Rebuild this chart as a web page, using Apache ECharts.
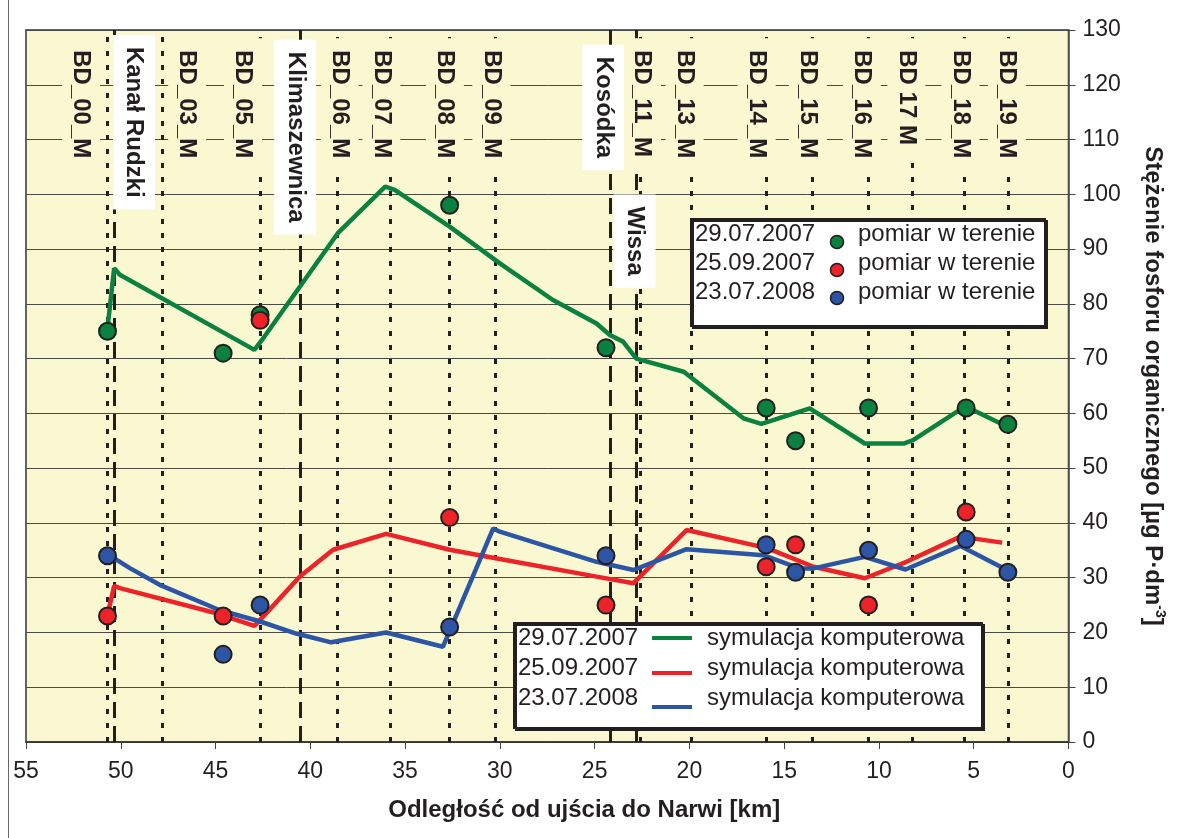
<!DOCTYPE html>
<html>
<head>
<meta charset="utf-8">
<title>Stężenie fosforu organicznego</title>
<script src="https://cdn.jsdelivr.net/npm/echarts@6/dist/echarts.min.js"></script>
<style>
html, body { margin: 0; padding: 0; background: #fff; }
#chart { width: 1180px; height: 838px; }
</style>
</head>
<body>
<div id="chart"></div>
<script>
// stanowiska pomiarowe [km od ujścia]
var stationNames = ['BD_00_M', 'BD_03_M', 'BD_05_M', 'BD_06_M', 'BD_07_M', 'BD_08_M', 'BD_09_M', 'BD_11_M',
	'BD_13_M', 'BD_14_M', 'BD_15_M', 'BD_16_M', 'BD 17 M', 'BD_18_M', 'BD_19_M'];
var stationKm = [50.7, 47.8, 42.65, 38.6, 35.8, 32.65, 30.25, 22.6, 19.9, 15.95, 13.5, 10.55, 8.25, 5.5, 3.2];

// dopływy
var tributaryNames = ['Kanał Rudzki', 'Klimaszewnica', 'Kosódka', 'Wissa'];
var tributaryKm = [50.35, 40.55, 24.2, 22.8];

// pomiary w terenie
var measKm = [50.7, 44.6, 42.65, 32.65, 24.4, 15.95, 14.4, 10.55, 5.4, 3.2];
var meas20070729 = [75, 71, 78, 98, 72, 61, 55, 61, 61, 58];
var meas20070925 = [23, 23, 77, 41, 25, 32, 36, 25, 42, null];
var meas20080723 = [34, 16, 25, 21, 34, 36, 31, 35, 37, 31];

// symulacja komputerowa [km, wartość]
var sim20070729 = [[50.75, 74], [50.35, 86.5], [50.05, 85.3], [42.95, 71.6], [42.55, 73.4], [38.55, 92.9],
	[36.05, 101.4], [35.55, 100.8], [32.65, 94.1], [30.0, 87.4], [27.2, 80.7], [24.9, 76.4], [24.2, 74.3],
	[23.5, 73.1], [22.8, 70.0], [20.3, 67.6], [17.15, 59.1], [16.2, 58.1], [13.65, 60.9], [10.75, 54.5],
	[8.7, 54.5], [8.2, 55.1], [5.45, 61.3], [3.25, 57.6]];
var sim20070925 = [[50.7, 23.2], [50.35, 28.5], [50.05, 28.1], [44.95, 23.5], [42.95, 21.2], [42.65, 22.3],
	[40.55, 30.2], [38.8, 35.1], [36.0, 38.0], [32.65, 35.1], [30.15, 33.5], [24.9, 30.2], [22.95, 29.0],
	[20.15, 38.7], [15.9, 35.4], [13.45, 32.0], [10.75, 29.9], [8.55, 32.9], [5.7, 37.5], [3.5, 36.4]];
var sim20080723 = [[50.7, 34.3], [49.5, 31.7], [47.95, 28.7], [44.8, 24.1], [42.65, 22.0], [40.75, 19.8],
	[38.9, 18.2], [36.0, 20.0], [33.0, 17.4], [30.35, 39.0], [30.0, 38.4], [24.9, 32.9], [22.95, 31.4],
	[20.15, 35.2], [16.1, 34.1], [14.2, 31.7], [13.45, 31.7], [10.75, 33.8], [8.6, 31.5], [5.7, 35.8],
	[3.25, 31.4]];

// legenda
var legendDates = ['29.07.2007', '25.09.2007', '23.07.2008'];
var legendMeasText = 'pomiar w terenie';
var legendSimText = 'symulacja komputerowa';

var xTicks = { min: 0, max: 55, interval: 5 };
var yTicks = { min: 0, max: 130, interval: 10 };

// ---- wygląd ----
var FONT = '"Liberation Sans", Arial, sans-serif';
var INK = '#231f20';
var PLOT_BG = '#faf8d0';
var colors = ['#0b8140', '#ee2229', '#2c55a6'];

// położenie podpisów (km środka napisu, górna krawędź tła w jednostkach osi Y)
var stationLabelKm = [52.1, 46.5, 43.55, 38.45, 36.25, 32.9, 30.45, 22.5, 20.25, 16.45, 13.75, 10.9, 8.55, 5.7, 3.25];
var stationLabelTop = 128.5;
var tributaryLabelKm = [49.3, 40.8, 24.55, 22.9];
var tributaryLabelTop = [129.1, 128.2, 127.3, 99.95];

function pairs(xs, ys) {
	var out = [];
	for (var i = 0; i < xs.length; i++) {
		if (ys[i] != null) out.push([xs[i], ys[i]]);
	}
	return out;
}

// podpisy pionowe (czytane z góry na dół)
function labelSeries(names, kms, tops, bg, pad) {
	var data = [];
	for (var i = 0; i < names.length; i++) {
		data.push({ name: names[i], value: [kms[i], typeof tops === 'number' ? tops : tops[i]] });
	}
	return {
		type: 'scatter',
		symbolSize: 0,
		silent: true,
		clip: false,
		z: 6,
		data: data,
		itemStyle: { opacity: 1 },
		label: {
			show: true,
			formatter: '{b}',
			position: 'right',
			distance: 0,
			rotate: -90,
			fontSize: 24,
			fontWeight: 'bold',
			fontFamily: FONT,
			color: INK,
			backgroundColor: bg,
			padding: pad
		}
	};
}

function vLines(kms, dash) {
	return {
		type: 'line',
		data: [],
		silent: true,
		z: 1,
		markLine: {
			z: 1,
			silent: true,
			symbol: ['none', 'none'],
			label: { show: false },
			lineStyle: { color: INK, width: 3, type: dash, opacity: 1 },
			data: kms.map(function(k) { return { xAxis: k }; })
		}
	};
}

function simSeries(data, color) {
	return {
		type: 'line',
		data: data,
		showSymbol: false,
		z: 3,
		lineStyle: { color: color, width: 4.5 },
		itemStyle: { color: color }
	};
}

function measSeries(ys, color) {
	return {
		type: 'scatter',
		data: pairs(measKm, ys),
		symbolSize: 17,
		z: 4,
		itemStyle: { color: color, borderColor: INK, borderWidth: 2, opacity: 1 }
	};
}

// legenda rysowana jako grafika
function legendBox(x, y, w, h, rowY, markX, textX, markFn, label) {
	var els = [{
		type: 'rect',
		shape: { x: x, y: y, width: w, height: h },
		style: { fill: '#fff', stroke: INK, lineWidth: 2, shadowColor: INK, shadowOffsetX: 2, shadowOffsetY: 2, shadowBlur: 0 },
		z: 20
	}];
	for (var i = 0; i < legendDates.length; i++) {
		els.push({
			type: 'text', x: x + 4, y: rowY[i], z: 21,
			style: { text: legendDates[i], font: '24px ' + FONT, fill: INK, textVerticalAlign: 'middle' }
		});
		els.push(markFn(i, markX));
		els.push({
			type: 'text', x: textX, y: rowY[i], z: 21,
			style: { text: label, font: '24px ' + FONT, fill: INK, textVerticalAlign: 'middle' }
		});
	}
	return els;
}

var measMarkY = [242, 270, 298];
var simMarkY = [638, 673, 707];

var graphics = [].concat(
	legendBox(691, 219, 354, 107, [234, 263, 292], 837, 858, function(i, mx) {
		return {
			type: 'circle', z: 21,
			shape: { cx: mx, cy: measMarkY[i], r: 6.5 },
			style: { fill: colors[i], stroke: INK, lineWidth: 1.5 }
		};
	}, legendMeasText),
	legendBox(514, 623, 468, 105, [638, 668, 698], 652, 707, function(i, mx) {
		return {
			type: 'line', z: 21,
			shape: { x1: mx, y1: simMarkY[i], x2: mx + 40, y2: simMarkY[i] },
			style: { stroke: colors[i], lineWidth: 4 }
		};
	}, legendSimText),
	[{
		type: 'line', z: 0,
		shape: { x1: 8.5, y1: 0, x2: 8.5, y2: 838 },
		style: { stroke: '#666', lineWidth: 1 }
	}]
);

var myChart = echarts.init(document.getElementById('chart'));

var option = {
	animation: false,
	backgroundColor: '#fff',
	textStyle: { fontFamily: FONT },
	grid: {
		left: 26,
		right: 111.5,
		top: 30,
		bottom: 96,
		show: true,
		backgroundColor: PLOT_BG,
		borderColor: '#333',
		borderWidth: 1.5,
		containLabel: false,
		outerBoundsMode: 'none'
	},
	xAxis: {
		type: 'value',
		inverse: true,
		min: xTicks.min,
		max: xTicks.max,
		interval: xTicks.interval,
		name: 'Odległość od ujścia do Narwi [km]',
		nameLocation: 'middle',
		nameGap: 56,
		nameTextStyle: { fontSize: 24, fontWeight: 'bold', color: INK, fontFamily: FONT, padding: [0, 0, 0, 74] },
		axisLine: { show: true, lineStyle: { color: '#333', width: 1.5 } },
		axisTick: { show: true, length: 7, lineStyle: { color: '#444' } },
		axisLabel: { fontSize: 23, color: INK, margin: 18, fontFamily: FONT },
		splitLine: { show: false }
	},
	yAxis: {
		type: 'value',
		position: 'right',
		min: yTicks.min,
		max: yTicks.max,
		interval: yTicks.interval,
		name: '{a|Stężenie fosforu organicznego [µg P·dm}{s|-3}{a|]}',
		nameLocation: 'middle',
		nameRotate: -90,
		nameGap: 70,
		nameTextStyle: {
			rich: {
				a: { fontSize: 24, fontWeight: 'bold', color: INK, fontFamily: FONT, lineHeight: 28 },
				s: { fontSize: 14, fontWeight: 'bold', color: INK, fontFamily: FONT, verticalAlign: 'top', lineHeight: 28 }
			}
		},
		axisLine: { show: true, lineStyle: { color: '#555', width: 1.5 } },
		axisTick: { show: true, length: 7, lineStyle: { color: '#444' } },
		axisLabel: { fontSize: 23, color: INK, margin: 14, fontFamily: FONT },
		splitLine: { show: true, lineStyle: { color: '#4a4a44', width: 1 } }
	},
	graphic: graphics,
	series: [
		vLines(stationKm, [5, 9]),
		vLines(tributaryKm, [16, 8]),
		simSeries(sim20070729, colors[0]),
		simSeries(sim20070925, colors[1]),
		simSeries(sim20080723, colors[2]),
		measSeries(meas20070729, colors[0]),
		measSeries(meas20070925, colors[1]),
		measSeries(meas20080723, colors[2]),
		labelSeries(stationNames, stationLabelKm, stationLabelTop, PLOT_BG, [7, 12, 7, 12]),
		labelSeries(tributaryNames, tributaryLabelKm, tributaryLabelTop, '#fff', [8, 12, 10, 12])
	]
};
myChart.setOption(option);
</script>
</body>
</html>
